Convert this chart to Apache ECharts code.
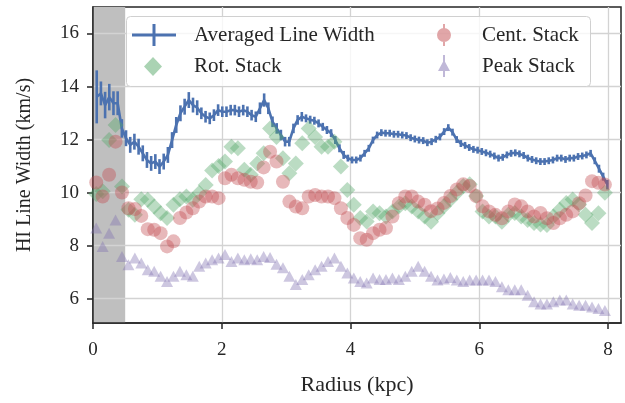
<!DOCTYPE html>
<html><head><meta charset="utf-8">
<script src="https://cdn.jsdelivr.net/npm/echarts@6/dist/echarts.min.js"></script>
<style>html,body{margin:0;padding:0;background:#fff}#c{width:625px;height:403px}</style>
</head><body><div id="c"></div>
<script>
// ---- data ----
const avgRadius = [0.058,0.123,0.188,0.253,0.318,0.383,0.448,0.513,0.578,0.643,
0.708,0.773,0.838,0.903,0.968,1.033,1.098,1.163,1.228,1.293,
1.358,1.423,1.488,1.553,1.618,1.683,1.748,1.813,1.878,1.943,
2.008,2.073,2.138,2.203,2.268,2.333,2.398,2.463,2.528,2.593,
2.658,2.723,2.788,2.853,2.918,2.983,3.048,3.113,3.178,3.243,
3.308,3.373,3.438,3.503,3.568,3.633,3.698,3.763,3.828,3.893,
3.958,4.023,4.088,4.153,4.218,4.283,4.348,4.413,4.478,4.543,
4.608,4.673,4.738,4.803,4.868,4.933,4.998,5.063,5.128,5.193,
5.258,5.323,5.388,5.453,5.518,5.583,5.648,5.713,5.778,5.843,
5.908,5.973,6.038,6.103,6.168,6.233,6.298,6.363,6.428,6.493,
6.558,6.623,6.688,6.753,6.818,6.883,6.948,7.013,7.078,7.143,
7.208,7.273,7.338,7.403,7.468,7.533,7.598,7.663,7.728,7.793,
7.858,7.923,7.988];
const avgWidth = [13.61,13.74,13.3,13.6,13.37,13.37,12.42,12.05,11.8,11.92,
11.73,11.48,11.23,11.1,11.17,10.98,11.17,11.42,11.98,12.55,
12.99,13.24,13.49,13.3,13.2,12.99,12.86,12.8,12.92,13.11,
13.05,13.05,13.11,13.11,13.05,13.11,13.05,12.92,12.86,13.18,
13.49,13.18,12.67,12.42,12.17,11.92,11.92,12.42,12.74,12.86,
12.8,12.75,12.71,12.61,12.48,12.36,12.24,11.98,11.67,11.42,
11.3,11.23,11.23,11.3,11.48,11.67,11.98,12.17,12.26,12.24,
12.24,12.2,12.2,12.17,12.15,12.07,12.02,11.98,11.96,11.88,
11.92,12.01,12.1,12.3,12.45,12.28,12.0,11.85,11.78,11.7,
11.63,11.6,11.55,11.5,11.45,11.38,11.3,11.33,11.42,11.48,
11.5,11.46,11.4,11.3,11.25,11.2,11.17,11.17,11.2,11.23,
11.3,11.3,11.25,11.3,11.3,11.36,11.38,11.42,11.48,11.2,
10.9,10.6,10.3];
const avgErr = [1.0,0.45,0.5,0.5,0.45,0.45,0.35,0.3,0.3,0.3,
0.3,0.3,0.3,0.28,0.28,0.28,0.3,0.3,0.3,0.3,
0.3,0.3,0.3,0.28,0.28,0.22,0.22,0.22,0.22,0.22,
0.2,0.2,0.2,0.2,0.2,0.2,0.2,0.2,0.2,0.22,
0.25,0.22,0.2,0.2,0.2,0.18,0.18,0.18,0.18,0.18,
0.15,0.15,0.15,0.15,0.15,0.15,0.15,0.15,0.15,0.15,
0.13,0.13,0.13,0.13,0.13,0.13,0.13,0.13,0.13,0.13,
0.13,0.13,0.13,0.13,0.13,0.13,0.13,0.13,0.13,0.13,
0.13,0.13,0.13,0.13,0.13,0.13,0.13,0.13,0.13,0.13,
0.13,0.13,0.13,0.13,0.13,0.13,0.13,0.13,0.13,0.13,
0.13,0.13,0.13,0.13,0.13,0.13,0.13,0.13,0.13,0.13,
0.13,0.13,0.13,0.13,0.13,0.13,0.13,0.13,0.13,0.13,
0.15,0.15,0.18];
const stackRadius = [0.05,0.15,0.25,0.35,0.45,0.55,0.65,0.75,0.85,0.95,
1.05,1.15,1.25,1.35,1.45,1.55,1.65,1.75,1.85,1.95,
2.05,2.15,2.25,2.35,2.45,2.55,2.65,2.75,2.85,2.95,
3.05,3.15,3.25,3.35,3.45,3.55,3.65,3.75,3.85,3.95,
4.05,4.15,4.25,4.35,4.45,4.55,4.65,4.75,4.85,4.95,
5.05,5.15,5.25,5.35,5.45,5.55,5.65,5.75,5.85,5.95,
6.05,6.15,6.25,6.35,6.45,6.55,6.65,6.75,6.85,6.95,
7.05,7.15,7.25,7.35,7.45,7.55,7.65,7.75,7.85,7.95];
const rotStack = [9.95,10.05,11.98,12.55,10.23,9.35,9.16,9.75,9.73,9.47,
9.22,9.04,9.54,9.75,9.85,9.73,9.98,10.29,10.83,11.0,
11.17,11.73,11.67,10.86,10.67,11.1,11.48,12.42,12.1,11.29,
10.73,11.1,11.86,12.42,12.1,11.73,11.73,11.92,10.98,10.1,
9.54,9.04,8.91,9.29,9.22,9.1,9.29,9.47,9.6,9.47,
9.29,9.1,8.9,9.22,9.48,9.74,9.99,10.25,10.31,9.87,
9.29,9.1,9.1,8.9,9.16,9.23,9.1,8.97,8.85,8.8,
8.78,9.1,9.35,9.61,9.74,9.55,9.16,8.85,9.22,9.99];
const centStack = [10.38,9.85,10.67,11.92,10.0,9.41,9.38,9.12,8.62,8.6,
8.47,7.97,8.16,9.04,9.25,9.41,9.66,9.85,9.85,9.79,
10.54,10.67,10.54,10.48,10.41,10.38,10.95,11.54,11.17,10.41,
9.66,9.47,9.41,9.85,9.91,9.85,9.85,9.79,9.41,9.04,
8.78,8.28,8.22,8.47,8.6,8.66,9.1,9.6,9.85,9.85,
9.66,9.54,9.3,9.4,9.61,9.87,10.12,10.31,10.25,9.87,
9.48,9.29,9.16,9.03,9.29,9.55,9.48,9.29,9.1,9.23,
9.03,8.85,9.03,9.16,9.29,9.6,9.89,10.43,10.37,10.3];
const peakStack = [8.66,7.97,8.47,8.97,7.59,7.28,7.53,7.34,7.09,7.03,
6.84,6.65,6.84,7.03,6.9,6.84,7.22,7.34,7.47,7.53,
7.66,7.4,7.53,7.47,7.5,7.47,7.59,7.55,7.3,7.16,
6.84,6.53,6.72,6.9,7.09,7.22,7.4,7.53,7.22,6.97,
6.78,6.65,6.59,6.78,6.72,6.72,6.78,6.72,6.84,7.03,
7.22,7.03,6.84,6.7,6.74,6.8,6.7,6.65,6.7,6.7,
6.7,6.7,6.65,6.45,6.33,6.33,6.33,6.13,5.88,5.8,
5.8,5.88,5.95,5.95,5.8,5.75,5.75,5.68,5.63,5.55];
const xTicks = [0, 2, 4, 6, 8];
const yTicks = [6, 8, 10, 12, 14, 16];
const innerRegion = [0, 0.5];
const seriesNames = ['Averaged Line Width', 'Rot. Stack', 'Cent. Stack', 'Peak Stack'];

// ---- styling ----
const FONT = 'Liberation Serif';
const INK = '#262626';
const BLUE = '#4C72B0';
const GREEN_A = 'rgba(85,168,104,0.5)';
const RED_A = 'rgba(196,78,82,0.5)';
const PURPLE_A = 'rgba(129,114,178,0.5)';
const zip = (a, b) => a.map((v, i) => [v, b[i]]);

const chart = echarts.init(document.getElementById('c'), null, {renderer: 'canvas'});

function legendItem(name, icon, color, left, top, w, h, padLeft) {
  return {
    show: true, selectedMode: false, padding: 0, z: 20,
    left: left, top: top, itemWidth: w, itemHeight: h,
    data: [{name: name, icon: icon, itemStyle: {color: color, opacity: 1}}],
    textStyle: {fontFamily: FONT, fontSize: 21, color: INK, padding: [0, 0, 0, padLeft]}
  };
}

const option = {
  animation: false,
  backgroundColor: '#fff',
  grid: {left: 93, right: 4, top: 7, bottom: 80, show: true, borderColor: INK, borderWidth: 1.5, backgroundColor: 'transparent'},
  graphic: [{
    type: 'rect', z: 10, left: 126, top: 16,
    shape: {width: 464, height: 70, r: 4},
    style: {fill: 'rgba(255,255,255,0.8)', stroke: '#d0d0d0', lineWidth: 1}
  }],
  legend: [
    legendItem(seriesNames[0], 'path://M0,9.5 H44 V12.5 H0 Z M20.5,0 H23.5 V22 H20.5 Z', BLUE, 132, 24, 44, 22, 13),
    legendItem(seriesNames[1], 'diamond', GREEN_A, 144, 56, 18, 19, 27),
    legendItem(seriesNames[2], 'path://M0,0 M14,22 M6,0 H8 V22 H6 Z M14,11 A7,7 0 1 1 0,11 A7,7 0 1 1 14,11 Z', RED_A, 437, 24, 14, 22, 26),
    legendItem(seriesNames[3], 'path://M0,0 M12,22 M5,0 H7 V22 H5 Z M6,5 L12,16 L0,16 Z', PURPLE_A, 438, 55, 12, 22, 27)
  ],
  xAxis: {
    type: 'value', min: 0, max: 8.2, z: 1.5,
    name: 'Radius (kpc)', nameLocation: 'middle', nameGap: 51,
    nameTextStyle: {fontFamily: FONT, fontSize: 22, color: INK},
    axisLine: {show: true, onZero: false, lineStyle: {color: INK, width: 1.5}},
    axisTick: {show: true, length: 6, customValues: xTicks, lineStyle: {color: INK, width: 1.5}},
    axisLabel: {customValues: xTicks, fontFamily: FONT, fontSize: 19, color: INK, margin: 18},
    splitLine: {show: true, lineStyle: {color: '#d3d3d3', width: 1.3}}
  },
  yAxis: {
    type: 'value', min: 5.08, max: 17, z: 1.5,
    name: 'HI Line Width (km/s)', nameLocation: 'middle', nameGap: 58,
    nameTextStyle: {fontFamily: FONT, fontSize: 20, color: INK},
    axisLine: {show: true, onZero: false, lineStyle: {color: INK, width: 1.5}},
    axisTick: {show: true, length: 6, customValues: yTicks, lineStyle: {color: INK, width: 1.5}},
    axisLabel: {customValues: yTicks, fontFamily: FONT, fontSize: 19, color: INK, margin: 14},
    splitLine: {show: true, lineStyle: {color: '#d3d3d3', width: 1.3}}
  },
  series: [
    {
      name: seriesNames[0], type: 'line', z: 3, symbol: 'none',
      data: zip(avgRadius, avgWidth),
      lineStyle: {color: BLUE, width: 2.6}, itemStyle: {color: BLUE},
      markArea: {silent: true, itemStyle: {color: '#bfbfbf'},
        data: [[{xAxis: innerRegion[0]}, {xAxis: innerRegion[1]}]]}
    },
    {
      name: seriesNames[0] + ' err', type: 'custom', z: 3,
      data: avgRadius.map((r, i) => [r, avgWidth[i] - avgErr[i], avgWidth[i] + avgErr[i]]),
      encode: {x: 0, y: [1, 2]},
      renderItem: function (params, api) {
        const x = api.value(0);
        const p1 = api.coord([x, api.value(1)]);
        const p2 = api.coord([x, api.value(2)]);
        return {type: 'line', shape: {x1: p1[0], y1: p1[1], x2: p2[0], y2: p2[1]},
          style: {stroke: BLUE, lineWidth: 2.6}};
      }
    },
    {
      name: seriesNames[1], type: 'scatter', z: 4, symbol: 'diamond', symbolSize: 16,
      data: zip(stackRadius, rotStack), itemStyle: {color: GREEN_A}
    },
    {
      name: seriesNames[2], type: 'scatter', z: 5, symbol: 'circle', symbolSize: 14,
      data: zip(stackRadius, centStack), itemStyle: {color: RED_A}
    },
    {
      name: seriesNames[3], type: 'scatter', z: 6, symbol: 'triangle', symbolSize: [12, 11],
      data: zip(stackRadius, peakStack), itemStyle: {color: PURPLE_A}
    }
  ]
};
chart.setOption(option);
</script>
</body></html>
